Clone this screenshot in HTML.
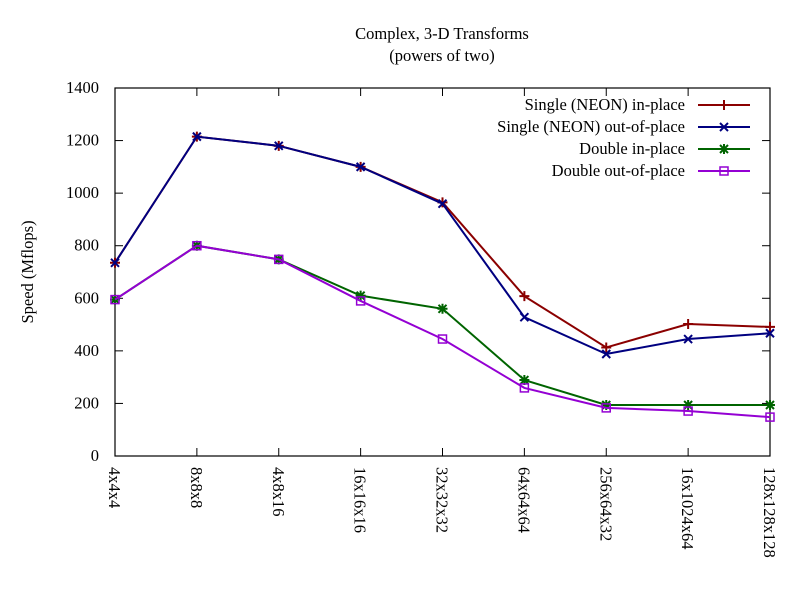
<!DOCTYPE html>
<html><head><meta charset="utf-8"><style>
body{margin:0;background:#fff}
svg text{font-family:"Liberation Serif",serif;font-size:16.5px;fill:#000}
</style></head><body>
<svg id="chart" width="800" height="600" xmlns="http://www.w3.org/2000/svg">
<rect width="800" height="600" fill="#fff"/>
<text x="442" y="39" text-anchor="middle">Complex, 3-D Transforms</text>
<text x="442" y="61" text-anchor="middle">(powers of two)</text>
<text transform="translate(33,272) rotate(-90)" text-anchor="middle">Speed (Mflops)</text>
<g id="plot"></g>
</svg>
<script>
const categories=["4x4x4","8x8x8","4x8x16","16x16x16","32x32x32","64x64x64","256x64x32","16x1024x64","128x128x128"];
const singleIn=[735,1215,1180,1100,965,608,413,502,491];
const singleOut=[735,1215,1180,1100,960,528,388,445,467];
const doubleIn=[595,800,748,610,560,289,194,194,194];
const doubleOut=[595,800,748,590,445,259,183,171,148];
const yTicks=[0,200,400,600,800,1000,1200,1400];
const seriesNames=["Single (NEON) in-place","Single (NEON) out-of-place","Double in-place","Double out-of-place"];

const L=115,R=770,T=88,B=456,NS="http://www.w3.org/2000/svg";
const xs=i=>L+(R-L)*i/(categories.length-1);
const ys=v=>B-(B-T)*v/1400;
const g=document.getElementById('plot');
function mk(t,a){const e=document.createElementNS(NS,t);for(const k in a)e.setAttribute(k,a[k]);g.appendChild(e);return e;}
yTicks.forEach(v=>{
  const y=ys(v);
  const t=mk('line',{x1:L,x2:L+8,y1:y,y2:y,stroke:'#000'});
  
  
  const t2=mk('line',{x1:R-8,x2:R,y1:y,y2:y,stroke:'#000'});
  
  
  const l=mk('text',{x:L-16,y:y+5,'text-anchor':'end'});l.textContent=v;
  
  
});
categories.forEach((c,i)=>{
  const x=xs(i);
  const t=mk('line',{x1:x,x2:x,y1:B,y2:B-8,stroke:'#000'});
  
  
  const t2=mk('line',{x1:x,x2:x,y1:T,y2:T+8,stroke:'#000'});
  
  
  const l=mk('text',{transform:`translate(${x-6},467) rotate(90)`,'text-anchor':'start'});l.textContent=c;
  
  
});
const frame=mk('rect',{x:L,y:T,width:R-L,height:B-T,fill:'none',stroke:'#000','stroke-width':1.2});


function marker(type,x,y,col){
  let d='';
  if(type==0)d=`M${x-5},${y}h10M${x},${y-5}v10`;
  else if(type==1)d=`M${x-4},${y-4}l8,8M${x-4},${y+4}l8,-8`;
  else if(type==2)d=`M${x-4},${y-4}l8,8M${x-4},${y+4}l8,-8M${x-5},${y}h10M${x},${y-5}v10`;
  else {const r=mk('rect',{x:x-4,y:y-4,width:8,height:8,fill:'none',stroke:col,'stroke-width':1.5});return;}
  const p=mk('path',{d,stroke:col,'stroke-width':2,fill:'none'});
  
  
}
const all=[singleIn,singleOut,doubleIn,doubleOut];
const cols=['#8b0000','#000080','#006400','#9400d3'];
const names=['series-single-in-place','series-single-out-of-place','series-double-in-place','series-double-out-of-place'];
all.forEach((s,k)=>{
  const p=mk('polyline',{points:s.map((v,i)=>xs(i)+','+ys(v)).join(' '),fill:'none',stroke:cols[k],'stroke-width':2});
  
  
  s.forEach((v,i)=>marker(k,xs(i),ys(v),cols[k]));
  const ly=105+k*22;
  const lt=mk('text',{x:685,y:ly+5,'text-anchor':'end'});lt.textContent=seriesNames[k];
  
  
  const ll=mk('line',{x1:698,x2:750,y1:ly,y2:ly,stroke:cols[k],'stroke-width':2});
  
  
  marker(k,724,ly,cols[k]);
});
</script>
</body></html>
